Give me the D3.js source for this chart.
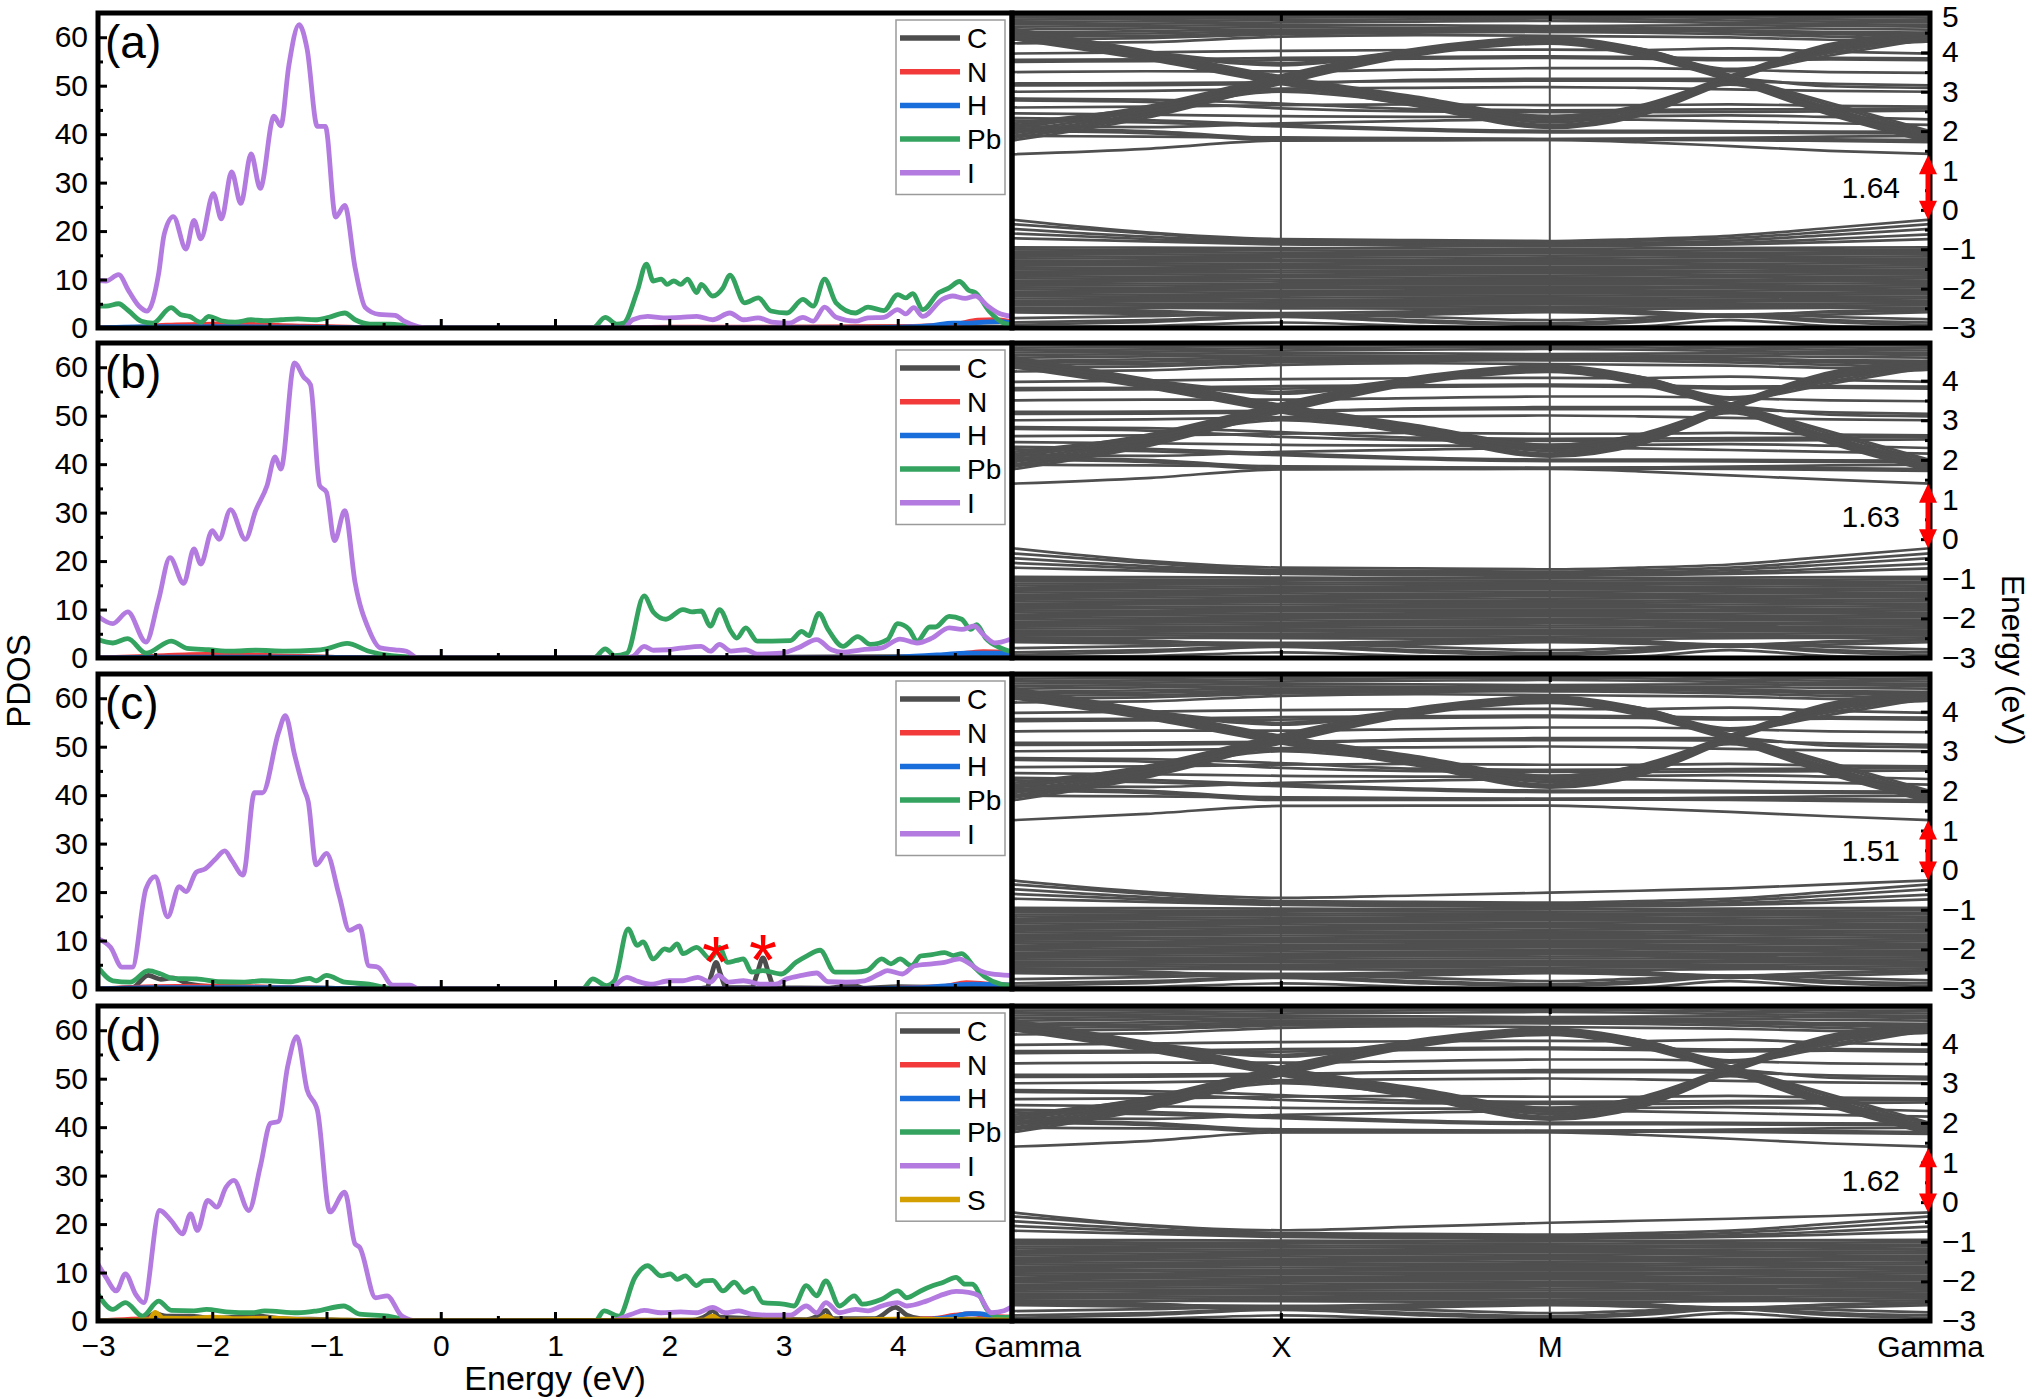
<!DOCTYPE html>
<html>
<head>
<meta charset="utf-8">
<script src="https://d3js.org/d3.v7.min.js"></script>
<style>
  body { margin: 0; background: #fff; }
  text { font-family: "Liberation Sans", Arial, sans-serif; }
</style>
</head>
<body>
<div id="chart"></div>
<script>
// ---------- data ----------
const elements = ['C', 'N', 'H', 'Pb', 'I', 'S'];
const panelLabels = ['(a)', '(b)', '(c)', '(d)'];
const gapValues = [1.64, 1.63, 1.51, 1.62];
const energyTicks = [-3, -2, -1, 0, 1, 2, 3, 4];
const energyMinor = [-2.5, -1.5, -0.5, 0.5, 1.5, 2.5, 3.5, 4.5];
const pdosTicks = [0, 10, 20, 30, 40, 50, 60];
const pdosMinor = [5, 15, 25, 35, 45, 55];
const bandTop = [5, 4.95, 4.95, 4.95];
const kPoints = [0, 0.5, 1, 1.5, 2, 2.33, 2.67, 3.04, 3.414];
const kTicks = [0, 1, 2, 3.414];
const kLabels = ['Gamma', 'X', 'M', 'Gamma'];
const starE = [2.41, 2.82];
const starV = [8.6, 9.0];

// PDOS, [energy, states]
const aI = [[-3.00,9.8],[-2.93,9.7],[-2.82,11.0],[-2.73,7.6],[-2.64,4.5],[-2.57,3.5],[-2.47,11.1],[-2.42,19.4],[-2.34,23.0],[-2.23,16.3],[-2.16,22.2],[-2.10,18.4],[-1.99,27.7],[-1.92,22.5],[-1.83,32.2],[-1.75,25.7],[-1.66,35.9],[-1.58,28.8],[-1.46,43.7],[-1.40,41.7],[-1.33,54.1],[-1.24,62.6],[-1.17,57.6],[-1.08,41.6],[-1.01,41.6],[-0.92,22.9],[-0.84,25.3],[-0.75,12.5],[-0.66,4.2],[-0.54,2.8],[-0.40,2.6],[-0.32,1.4],[-0.20,0.3],[-0.12,0],[1.60,0],[1.68,1.7],[1.81,2.4],[1.95,2.1],[2.10,2.2],[2.24,2.4],[2.38,1.7],[2.53,3.1],[2.65,1.7],[2.78,2.1],[2.90,1.2],[3.05,1.0],[3.17,2.2],[3.26,1.4],[3.36,4.3],[3.46,2.2],[3.63,1.4],[3.74,2.1],[3.88,2.2],[4.00,3.8],[4.07,2.9],[4.14,4.2],[4.22,2.4],[4.39,5.9],[4.48,6.6],[4.59,6.1],[4.68,6.6],[4.79,4.5],[4.88,3.1],[5.00,2.4]];
const aPb = [[-3.00,4.5],[-2.93,4.5],[-2.82,5.0],[-2.73,3.5],[-2.62,1.4],[-2.52,1.0],[-2.36,4.2],[-2.28,2.8],[-2.20,2.4],[-2.10,1.2],[-2.03,2.4],[-1.92,1.5],[-1.80,1.2],[-1.66,1.7],[-1.55,1.5],[-1.40,1.7],[-1.25,1.9],[-1.10,1.7],[-0.98,2.2],[-0.84,3.1],[-0.75,1.7],[-0.62,0.8],[-0.45,0.8],[-0.35,0.6],[-0.25,0.1],[-0.15,0],[1.33,0],[1.44,2.2],[1.54,0.8],[1.60,1.0],[1.72,7.6],[1.80,13.2],[1.86,9.7],[1.93,10.1],[1.98,9.0],[2.04,9.7],[2.10,9.0],[2.16,10.1],[2.24,7.3],[2.28,9.0],[2.38,6.6],[2.47,8.3],[2.53,10.9],[2.66,5.2],[2.78,6.2],[2.89,3.5],[3.03,3.1],[3.17,5.9],[3.26,4.5],[3.36,10.1],[3.46,5.2],[3.63,3.1],[3.74,4.3],[3.88,3.6],[4.00,6.9],[4.07,6.2],[4.13,7.1],[4.22,3.8],[4.36,7.3],[4.45,8.3],[4.54,9.6],[4.62,7.8],[4.68,7.3],[4.80,3.5],[4.93,1.0],[5.00,0.7]];
const aC = [[-3,0],[-2.5,0.2],[-2.0,0.4],[-1.5,0.3],[-1.0,0.2],[-0.5,0],[1.8,0],[2.5,0.1],[3.5,0.2],[4.0,0.3],[5.0,0.2]];
const aN = [[-3,0],[-2.6,0.2],[-2.4,0.6],[-2.0,0.8],[-1.8,1.0],[-1.6,0.7],[-1.2,0.4],[-0.8,0.2],[-0.5,0],[1.5,0],[2.0,0.2],[3.0,0.2],[4.0,0.3],[4.5,0.8],[4.7,1.6],[4.85,1.7],[5.0,1.2]];
const aH = [[-3,0],[-2.5,0.3],[-2.0,0.3],[-1.5,0.2],[-1.0,0.1],[-0.5,0],[3.5,0],[4.0,0.2],[4.3,0.5],[4.48,1.0],[4.6,1.0],[4.75,1.2],[4.9,1.3],[5.0,1.0]];

const bI = [[-3.00,8.6],[-2.87,7.1],[-2.74,9.5],[-2.58,3.3],[-2.47,12.0],[-2.37,20.7],[-2.25,15.4],[-2.16,22.5],[-2.10,19.4],[-2.00,26.3],[-1.94,24.5],[-1.84,30.6],[-1.71,24.5],[-1.62,30.4],[-1.52,35.6],[-1.45,41.5],[-1.40,39.0],[-1.28,60.9],[-1.20,58.0],[-1.14,56.4],[-1.06,35.6],[-1.00,34.2],[-0.93,24.2],[-0.84,30.4],[-0.75,15.6],[-0.63,5.9],[-0.53,2.1],[-0.40,1.7],[-0.30,1.4],[-0.20,0],[1.60,0],[1.68,0.3],[1.78,2.4],[1.86,1.6],[1.99,1.7],[2.12,2.1],[2.28,2.4],[2.36,1.4],[2.44,2.8],[2.54,1.4],[2.67,1.7],[2.77,0.8],[2.98,1.0],[3.13,2.1],[3.29,3.8],[3.42,1.7],[3.52,1.2],[3.68,1.7],[3.86,2.1],[4.02,3.9],[4.17,3.1],[4.30,4.1],[4.45,6.2],[4.56,5.9],[4.67,6.6],[4.75,4.8],[4.85,3.1],[4.98,3.8]];
const bPb = [[-3.00,3.8],[-2.87,3.1],[-2.74,4.0],[-2.58,1.0],[-2.36,3.5],[-2.22,2.0],[-2.03,1.7],[-1.83,1.4],[-1.62,1.6],[-1.36,1.4],[-1.10,1.6],[-1.00,1.9],[-0.82,3.0],[-0.63,1.4],[-0.43,0.5],[-0.27,0.2],[-0.15,0],[1.34,0],[1.44,1.9],[1.52,0.5],[1.63,1.0],[1.78,12.8],[1.86,9.5],[1.97,8.0],[2.12,10.0],[2.20,9.5],[2.28,9.7],[2.36,6.6],[2.44,10.0],[2.54,5.5],[2.59,4.1],[2.67,6.2],[2.77,3.5],[2.90,3.5],[3.06,3.6],[3.16,5.5],[3.22,4.6],[3.31,9.2],[3.39,5.9],[3.52,2.4],[3.65,4.4],[3.76,2.8],[3.91,3.8],[4.00,7.1],[4.10,5.9],[4.17,3.5],[4.28,6.4],[4.33,6.4],[4.45,8.6],[4.56,8.0],[4.64,5.9],[4.69,6.9],[4.77,4.1],[4.90,2.1],[4.98,1.4]];
const bC = [[-3,0],[-2.5,0.2],[-2.0,0.3],[-1.5,0.3],[-1.0,0.2],[-0.5,0],[1.8,0],[3.0,0.2],[4.0,0.3],[5.0,0.2]];
const bN = [[-3,0],[-2.5,0.4],[-2.2,0.7],[-1.9,0.8],[-1.5,0.5],[-1.0,0.2],[-0.5,0],[3.5,0],[4.3,0.3],[4.6,1.0],[4.75,1.3],[5.0,1.1]];
const bH = [[-3,0],[-2.5,0.2],[-1.5,0.2],[-0.5,0],[3.5,0],[4.0,0.2],[4.4,0.7],[4.6,1.0],[5.0,1.0]];

const cI = [[-3.00,10.4],[-2.89,8.6],[-2.79,4.5],[-2.70,4.5],[-2.58,20.7],[-2.50,23.2],[-2.39,14.9],[-2.29,21.1],[-2.23,20.1],[-2.14,24.1],[-2.06,24.8],[-1.98,26.6],[-1.89,28.5],[-1.83,26.6],[-1.73,23.5],[-1.63,40.5],[-1.56,40.5],[-1.42,52.9],[-1.36,56.4],[-1.28,48.4],[-1.20,41.4],[-1.16,38.7],[-1.09,25.6],[-1.00,28.0],[-0.89,19.4],[-0.80,12.1],[-0.71,13.0],[-0.63,4.8],[-0.55,4.5],[-0.42,0.8],[-0.27,0.8],[-0.19,0],[1.47,0],[1.63,2.4],[1.71,1.7],[1.84,1.0],[2.00,1.7],[2.12,1.7],[2.25,2.4],[2.36,1.4],[2.43,2.8],[2.52,1.4],[2.65,1.7],[2.81,1.0],[2.93,1.0],[3.03,2.1],[3.16,2.8],[3.29,3.3],[3.39,1.5],[3.55,1.4],[3.71,1.7],[3.84,3.1],[3.91,3.8],[4.04,3.1],[4.15,4.8],[4.30,5.2],[4.41,5.5],[4.54,6.2],[4.61,5.5],[4.72,3.8],[4.82,3.1],[4.98,2.8]];
const cPb = [[-3.00,4.5],[-2.87,1.7],[-2.72,1.4],[-2.56,3.8],[-2.45,3.1],[-2.35,2.2],[-2.14,2.1],[-1.93,1.5],[-1.72,1.4],[-1.57,1.7],[-1.31,1.5],[-1.15,2.2],[-1.09,1.7],[-1.00,2.8],[-0.84,1.4],[-0.63,1.0],[-0.48,0.3],[-0.40,0],[1.24,0],[1.33,2.1],[1.45,0.7],[1.52,1.7],[1.64,12.4],[1.72,9.0],[1.77,9.7],[1.86,6.2],[1.96,8.3],[2.00,8.0],[2.07,9.3],[2.12,7.3],[2.24,8.6],[2.36,6.2],[2.44,8.6],[2.51,5.5],[2.59,5.9],[2.65,6.2],[2.72,3.5],[2.82,3.8],[2.98,3.1],[3.11,5.5],[3.21,6.9],[3.32,8.0],[3.45,3.5],[3.63,3.5],[3.73,3.8],[3.86,6.2],[3.94,5.2],[4.02,6.2],[4.12,4.8],[4.20,6.8],[4.30,7.1],[4.41,7.5],[4.49,6.9],[4.56,7.3],[4.67,4.5],[4.77,2.4],[4.90,1.0],[5.00,0.7]];
const cC = [[-3,0],[-2.7,0.3],[-2.56,2.8],[-2.45,2.0],[-2.35,2.3],[-2.2,1.0],[-2.0,0.5],[-1.5,0.3],[-1.0,0.2],[-0.5,0],[2.2,0],[2.33,0.3],[2.37,3.0],[2.41,5.5],[2.45,3.0],[2.5,0.3],[2.72,0.3],[2.77,3.2],[2.82,6.4],[2.87,3.2],[2.92,0.3],[3.4,0.2],[3.6,0.8],[3.7,0.2],[4.0,0.5],[4.5,0.3],[5.0,0.2]];
const cN = [[-3,0],[-2.5,0.5],[-2.0,0.6],[-1.5,0.4],[-0.5,0],[3.5,0],[4.4,0.5],[4.6,1.3],[4.8,1.0],[5.0,0.8]];
const cH = [[-3,0],[-2.5,0.3],[-1.5,0.3],[-0.5,0],[3.5,0],[4.2,0.3],[4.5,0.8],[4.65,1.0],[5.0,0.8]];

const dI = [[-3.00,11.7],[-2.93,9.0],[-2.84,6.2],[-2.76,9.7],[-2.67,5.5],[-2.60,3.8],[-2.46,22.8],[-2.36,20.7],[-2.26,18.0],[-2.19,22.1],[-2.13,18.7],[-2.04,24.9],[-1.96,23.5],[-1.88,27.6],[-1.81,29.0],[-1.68,22.8],[-1.58,31.8],[-1.49,40.8],[-1.42,41.2],[-1.34,52.5],[-1.26,58.7],[-1.17,47.7],[-1.08,43.5],[-0.97,22.5],[-0.84,26.6],[-0.75,15.9],[-0.71,15.2],[-0.57,4.8],[-0.47,5.2],[-0.34,1.0],[-0.20,0],[1.47,0],[1.67,1.4],[1.78,2.2],[1.93,1.7],[2.10,1.9],[2.24,1.7],[2.38,2.8],[2.49,1.7],[2.61,2.1],[2.72,1.4],[2.89,1.2],[3.06,1.2],[3.20,3.1],[3.29,1.7],[3.37,3.8],[3.49,1.7],[3.63,2.4],[3.74,2.1],[3.86,3.1],[4.00,3.8],[4.08,3.1],[4.25,4.1],[4.40,5.5],[4.51,6.1],[4.62,5.9],[4.71,5.2],[4.82,1.7],[4.93,2.1],[4.99,2.8]];
const dPb = [[-3.00,5.5],[-2.87,2.4],[-2.76,3.8],[-2.61,1.0],[-2.47,4.1],[-2.36,2.2],[-2.16,2.1],[-2.05,2.4],[-1.88,1.9],[-1.65,1.7],[-1.54,2.1],[-1.25,1.7],[-1.08,2.1],[-0.85,3.1],[-0.71,1.4],[-0.46,1.0],[-0.32,0.3],[-0.20,0],[1.35,0],[1.43,2.1],[1.56,1.0],[1.70,9.0],[1.81,11.4],[1.93,9.3],[2.01,9.7],[2.07,8.6],[2.14,9.3],[2.24,7.3],[2.30,8.3],[2.38,8.4],[2.47,6.2],[2.57,8.0],[2.66,5.9],[2.73,6.8],[2.82,3.8],[3.00,3.5],[3.09,3.1],[3.20,7.3],[3.29,5.2],[3.37,8.3],[3.49,3.1],[3.62,5.2],[3.69,3.5],[3.86,4.5],[4.00,6.2],[4.08,4.8],[4.20,6.2],[4.31,7.3],[4.40,8.0],[4.51,9.0],[4.59,7.6],[4.65,7.6],[4.79,2.1],[4.91,0.7],[4.99,0.8]];
const dC = [[-3,0],[-2.6,0.3],[-2.5,1.5],[-2.4,1.0],[-2.2,1.0],[-2.0,0.6],[-1.6,1.0],[-1.4,0.5],[-1.0,0.3],[-0.5,0],[2.2,0.2],[2.33,1.2],[2.38,2.2],[2.44,0.8],[3.2,0.3],[3.33,1.5],[3.37,2.2],[3.43,0.5],[3.8,0.5],[3.98,2.8],[4.08,1.2],[4.2,0.5],[5.0,0.3]];
const dN = [[-3,0],[-2.5,0.5],[-2.0,0.4],[-1.5,0.3],[-0.5,0],[3.5,0],[4.3,0.5],[4.5,1.2],[4.65,1.5],[4.8,1.0],[5.0,0.8]];
const dH = [[-3,0],[-2.5,0.2],[-1.5,0.3],[-0.5,0],[3.5,0],[4.3,0.4],[4.5,1.0],[4.62,1.5],[4.72,1.5],[4.85,0.8],[5.0,0.6]];
const dS = [[-3,0],[-2.55,0.3],[-2.5,1.8],[-2.43,0.6],[-2.2,0.5],[-2.0,0.8],[-1.8,0.5],[-1.5,0.6],[-1.2,0.3],[-0.8,0.2],[-0.5,0],[2.3,0.2],[2.38,1.0],[2.45,0.2],[3.3,0.2],[3.37,1.0],[3.45,0.2],[4.0,0.4],[5.0,0.2]];

// bands, energies (eV) at kPoints
const cbEdgeA = [1.41, 1.55, 1.76, 1.77, 1.78, 1.72, 1.62, 1.50, 1.42];
const cbEdgeB = [1.40, 1.54, 1.76, 1.77, 1.77, 1.71, 1.61, 1.50, 1.40];
const cbEdgeC = [1.26, 1.42, 1.62, 1.63, 1.63, 1.56, 1.47, 1.36, 1.26];
const cbEdgeD = [1.40, 1.54, 1.76, 1.76, 1.76, 1.70, 1.60, 1.48, 1.40];
const vbEdgeA = [-0.25, -0.57, -0.74, -0.77, -0.79, -0.74, -0.66, -0.46, -0.25];
const vbEdgeB = [-0.23, -0.55, -0.72, -0.74, -0.76, -0.72, -0.64, -0.44, -0.23];
const vbEdgeC = [-0.26, -0.55, -0.70, -0.64, -0.57, -0.52, -0.46, -0.36, -0.26];
const vbEdgeD = [-0.26, -0.58, -0.71, -0.62, -0.52, -0.47, -0.42, -0.35, -0.26];

const bandsUp = [
  [1.76, 2.34, 3.20, 3.92, 4.22, 3.92, 3.28, 2.42, 1.72],
  [1.82, 2.39, 3.25, 3.95, 4.25, 3.95, 3.30, 2.46, 1.75],
  [1.88, 2.43, 3.28, 3.98, 4.28, 3.98, 3.33, 2.50, 1.79],
  [1.94, 2.48, 3.31, 4.01, 4.30, 4.01, 3.35, 2.55, 1.83],
  [2.00, 2.53, 3.34, 4.03, 4.32, 4.04, 3.37, 2.60, 1.88],
  [2.07, 2.58, 3.38, 4.06, 4.35, 4.07, 3.40, 2.66, 1.94],
  [2.14, 2.63, 3.42, 4.09, 4.38, 4.10, 3.43, 2.72, 2.00],
  [2.12, 2.50, 3.00, 2.70, 2.32, 2.55, 3.18, 2.45, 1.90],
  [2.20, 2.58, 3.05, 2.76, 2.38, 2.62, 3.22, 2.52, 1.98],
  [4.40, 3.95, 3.67, 4.00, 4.26, 4.05, 3.52, 3.92, 4.35],
  [4.46, 4.02, 3.72, 4.05, 4.30, 4.10, 3.58, 3.98, 4.40]
];
const bandsDown = [
  [4.34, 3.82, 3.20, 2.64, 2.08, 2.38, 3.27, 4.04, 4.28],
  [4.38, 3.86, 3.23, 2.68, 2.12, 2.42, 3.29, 4.07, 4.31],
  [4.42, 3.90, 3.26, 2.72, 2.16, 2.46, 3.31, 4.10, 4.35],
  [4.46, 3.93, 3.29, 2.76, 2.22, 2.50, 3.33, 4.12, 4.38],
  [4.50, 3.96, 3.32, 2.80, 2.28, 2.55, 3.35, 4.15, 4.42],
  [4.55, 4.00, 3.35, 2.84, 2.33, 2.60, 3.38, 4.18, 4.46],
  [4.60, 4.04, 3.39, 2.88, 2.38, 2.64, 3.41, 4.21, 4.50]
];
const bandsFlat = [
  [2.00, 1.95, 1.77, 1.77, 1.78, 1.78, 1.77, 1.75, 1.72],
  [2.05, 2.00, 1.82, 1.80, 1.80, 1.80, 1.80, 1.79, 1.77],
  [2.27, 2.22, 2.12, 2.02, 1.97, 1.97, 1.96, 1.95, 1.94],
  [2.33, 2.28, 2.16, 2.06, 2.01, 2.01, 2.00, 1.99, 1.98],
  [2.78, 2.74, 2.58, 2.50, 2.48, 2.48, 2.49, 2.50, 2.52],
  [2.83, 2.80, 2.70, 2.56, 2.53, 2.54, 2.55, 2.56, 2.58],
  [3.16, 3.17, 3.20, 3.30, 3.33, 3.33, 3.33, 3.14, 3.10],
  [3.21, 3.22, 3.24, 3.27, 3.28, 3.28, 3.27, 3.20, 3.16],
  [3.50, 3.52, 3.52, 3.56, 3.60, 3.60, 3.56, 3.50, 3.48],
  [3.76, 3.78, 3.80, 3.84, 3.86, 3.84, 3.80, 3.82, 3.80],
  [3.81, 3.82, 3.86, 3.88, 3.90, 3.88, 3.85, 3.86, 3.85],
  [3.97, 4.00, 4.04, 4.06, 4.07, 4.06, 4.10, 4.02, 3.97],
  [4.23, 4.26, 4.40, 4.44, 4.42, 4.40, 4.38, 4.32, 4.28],
  [1.88, 1.86, 1.84, 1.82, 1.80, 1.81, 1.83, 1.86, 1.88],
  [2.12, 2.10, 2.20, 2.26, 2.30, 2.29, 2.25, 2.20, 2.16],
  [2.45, 2.42, 2.38, 2.36, 2.36, 2.38, 2.40, 2.36, 2.30],
  [2.60, 2.62, 2.66, 2.68, 2.66, 2.66, 2.68, 2.64, 2.62],
  [3.00, 3.02, 3.08, 3.10, 3.12, 3.10, 3.06, 3.02, 3.00]
];
const bandsTop = [
  [4.40, 4.42, 4.50, 4.55, 4.58, 4.56, 4.52, 4.46, 4.42],
  [4.46, 4.48, 4.54, 4.60, 4.63, 4.60, 4.56, 4.50, 4.46],
  [4.50, 4.54, 4.58, 4.56, 4.52, 4.54, 4.55, 4.52, 4.50],
  [4.58, 4.61, 4.64, 4.62, 4.60, 4.61, 4.62, 4.60, 4.58],
  [4.65, 4.67, 4.70, 4.69, 4.67, 4.68, 4.69, 4.67, 4.65],
  [4.71, 4.73, 4.76, 4.78, 4.80, 4.78, 4.75, 4.72, 4.70],
  [4.77, 4.79, 4.82, 4.84, 4.86, 4.84, 4.81, 4.78, 4.76],
  [4.83, 4.85, 4.88, 4.90, 4.91, 4.90, 4.87, 4.84, 4.82],
  [4.89, 4.90, 4.93, 4.94, 4.95, 4.94, 4.92, 4.90, 4.88],
  [4.94, 4.95, 4.97, 4.98, 4.99, 4.98, 4.97, 4.95, 4.94],
  [4.32, 4.36, 4.46, 4.50, 4.52, 4.50, 4.46, 4.40, 4.34],
  [4.99, 5.00, 5.02, 5.03, 5.03, 5.03, 5.02, 5.00, 4.99]
];
const bandsVB = [
  [-0.36, -0.60, -0.78, -0.80, -0.82, -0.78, -0.72, -0.55, -0.36],
  [-0.48, -0.68, -0.81, -0.84, -0.86, -0.84, -0.78, -0.64, -0.48],
  [-0.60, -0.74, -0.85, -0.88, -0.90, -0.88, -0.84, -0.74, -0.62],
  [-0.72, -0.80, -0.88, -0.91, -0.93, -0.91, -0.88, -0.82, -0.74]
];
const bandsDeep = [
  [-0.95, -0.96, -0.97, -0.98, -0.99, -0.98, -0.97, -0.96, -0.95],
  [-1.00, -1.02, -1.03, -1.04, -1.05, -1.04, -1.03, -1.02, -1.01],
  [-1.06, -1.07, -1.09, -1.10, -1.10, -1.10, -1.09, -1.08, -1.07],
  [-1.12, -1.13, -1.14, -1.15, -1.16, -1.15, -1.14, -1.13, -1.12],
  [-1.17, -1.19, -1.20, -1.21, -1.22, -1.21, -1.20, -1.19, -1.18],
  [-1.23, -1.24, -1.26, -1.27, -1.27, -1.27, -1.26, -1.25, -1.24],
  [-1.29, -1.30, -1.31, -1.32, -1.33, -1.32, -1.31, -1.30, -1.29],
  [-1.34, -1.36, -1.37, -1.38, -1.38, -1.38, -1.37, -1.36, -1.35],
  [-1.40, -1.41, -1.43, -1.44, -1.44, -1.44, -1.43, -1.42, -1.40],
  [-1.46, -1.47, -1.48, -1.49, -1.50, -1.49, -1.48, -1.47, -1.46],
  [-1.51, -1.53, -1.54, -1.55, -1.55, -1.55, -1.54, -1.53, -1.52],
  [-1.57, -1.58, -1.59, -1.60, -1.61, -1.60, -1.59, -1.58, -1.57],
  [-1.63, -1.64, -1.65, -1.66, -1.67, -1.66, -1.65, -1.64, -1.63],
  [-1.68, -1.70, -1.71, -1.72, -1.72, -1.72, -1.71, -1.70, -1.69],
  [-1.74, -1.75, -1.77, -1.78, -1.78, -1.78, -1.77, -1.76, -1.74],
  [-1.80, -1.81, -1.82, -1.83, -1.84, -1.83, -1.82, -1.81, -1.80],
  [-1.85, -1.87, -1.88, -1.89, -1.89, -1.89, -1.88, -1.87, -1.86],
  [-1.91, -1.92, -1.94, -1.95, -1.95, -1.95, -1.94, -1.93, -1.91],
  [-1.97, -1.98, -1.99, -2.00, -2.01, -2.00, -1.99, -1.98, -1.97],
  [-2.02, -2.04, -2.05, -2.06, -2.06, -2.06, -2.05, -2.04, -2.03],
  [-2.08, -2.09, -2.11, -2.12, -2.12, -2.12, -2.11, -2.10, -2.08],
  [-2.14, -2.15, -2.16, -2.17, -2.18, -2.17, -2.16, -2.15, -2.14],
  [-2.19, -2.21, -2.22, -2.23, -2.23, -2.23, -2.22, -2.21, -2.20],
  [-2.25, -2.26, -2.28, -2.29, -2.29, -2.29, -2.28, -2.27, -2.25],
  [-2.31, -2.32, -2.33, -2.34, -2.35, -2.34, -2.33, -2.32, -2.31],
  [-2.36, -2.38, -2.39, -2.40, -2.40, -2.40, -2.39, -2.38, -2.37],
  [-2.42, -2.43, -2.45, -2.45, -2.46, -2.45, -2.45, -2.44, -2.42],
  [-2.48, -2.49, -2.50, -2.51, -2.51, -2.51, -2.50, -2.49, -2.48]
];
const bandsBottom = [
  [-2.55, -2.60, -2.62, -2.58, -2.55, -2.60, -2.66, -2.60, -2.55],
  [-2.60, -2.64, -2.70, -2.66, -2.60, -2.64, -2.72, -2.66, -2.60],
  [-2.75, -2.70, -2.64, -2.72, -2.80, -2.74, -2.66, -2.72, -2.78],
  [-2.86, -2.80, -2.70, -2.80, -2.88, -2.80, -2.68, -2.80, -2.86],
  [-2.92, -2.85, -2.72, -2.85, -2.92, -2.85, -2.70, -2.85, -2.92],
  [-2.52, -2.56, -2.68, -2.62, -2.53, -2.57, -2.68, -2.58, -2.52],
  [-2.98, -2.95, -2.86, -2.95, -2.99, -2.96, -2.80, -2.95, -2.99]
];

// ---------- layout ----------
const W = 2032, H = 1399;
const xLeft = 98, xSplit = 1012, xRight = 1930;
const panelTops = [13, 343, 674, 1006];
const panelH = 315;
const colors = { C: '#4d4d4d', N: '#f23a3a', H: '#1a6edc', Pb: '#33a35f', I: '#b37be0', S: '#d49f00' };
const bandColor = '#4f4f4f';

const panels = [
  { pdos: { C: aC, N: aN, H: aH, Pb: aPb, I: aI }, cb: cbEdgeA, vb: vbEdgeA },
  { pdos: { C: bC, N: bN, H: bH, Pb: bPb, I: bI }, cb: cbEdgeB, vb: vbEdgeB },
  { pdos: { C: cC, N: cN, H: cH, Pb: cPb, I: cI }, cb: cbEdgeC, vb: vbEdgeC },
  { pdos: { C: dC, N: dN, H: dH, Pb: dPb, I: dI, S: dS }, cb: cbEdgeD, vb: vbEdgeD }
];
const sharedBands = [].concat(bandsDeep, bandsBottom, bandsVB, bandsTop, bandsFlat, bandsDown, bandsUp);

const svg = d3.select('#chart')
  .append('svg')
  .attr('width', W)
  .attr('height', H)
  .style('background', '#fff');

const xE = d3.scaleLinear().domain([-3, 5]).range([xLeft, xSplit]);
const xK = d3.scaleLinear().domain([0, kPoints[kPoints.length - 1]]).range([xSplit, xRight]);
const yP = d3.scaleLinear().domain([0, 65]).range([panelH, 0]);

function styleAxis(sel, size) {
  sel.select('.domain').remove();
  sel.selectAll('.tick line').attr('stroke', '#000').attr('stroke-width', 3);
  sel.selectAll('text').attr('fill', '#000').style('font-size', size + 'px');
}

panels.forEach((p, i) => {
  const g = svg.append('g').attr('transform', `translate(0,${panelTops[i]})`);
  const yB = d3.scaleLinear().domain([-3, bandTop[i]]).range([panelH, 0]);

  g.append('clipPath').attr('id', `clipP${i}`)
    .append('rect').attr('x', xLeft).attr('y', 0).attr('width', xSplit - xLeft).attr('height', panelH);
  g.append('clipPath').attr('id', `clipB${i}`)
    .append('rect').attr('x', xSplit).attr('y', 0).attr('width', xRight - xSplit).attr('height', panelH);

  // PDOS curves
  const lineE = d3.line().x(d => xE(d[0])).y(d => yP(d[1])).curve(d3.curveMonotoneX);
  const keys = elements.filter(k => p.pdos[k]);
  g.append('g').attr('clip-path', `url(#clipP${i})`)
    .selectAll('path')
    .data(keys)
    .enter()
    .append('path')
    .attr('d', k => lineE(p.pdos[k]))
    .attr('fill', 'none')
    .attr('stroke', k => colors[k])
    .attr('stroke-width', 4.8)
    .attr('stroke-linejoin', 'round');

  // red stars on C peaks in (c)
  if (i === 2) {
    g.selectAll('text.star')
      .data(starE)
      .enter()
      .append('text')
      .attr('class', 'star')
      .attr('x', d => xE(d))
      .attr('y', (d, j) => yP(starV[j]))
      .attr('dy', '0.55em')
      .attr('text-anchor', 'middle')
      .attr('fill', '#ff0000')
      .style('font-size', '72px')
      .text('*');
  }

  // band structure
  const allBands = [p.vb, p.cb].concat(sharedBands);
  const lineK = d3.line().x((d, j) => xK(kPoints[j])).y(d => yB(d)).curve(d3.curveMonotoneX);
  const bg = g.append('g').attr('clip-path', `url(#clipB${i})`);
  bg.selectAll('path')
    .data(allBands)
    .enter()
    .append('path')
    .attr('d', lineK)
    .attr('fill', 'none')
    .attr('stroke', bandColor)
    .attr('stroke-width', 2.7);
  bg.selectAll('line.kline')
    .data(kTicks.slice(1, 3))
    .enter()
    .append('line')
    .attr('x1', d => xK(d)).attr('x2', d => xK(d))
    .attr('y1', 0).attr('y2', panelH)
    .attr('stroke', bandColor)
    .attr('stroke-width', 2);

  // frames
  g.append('rect').attr('x', xLeft).attr('y', 0).attr('width', xSplit - xLeft).attr('height', panelH)
    .attr('fill', 'none').attr('stroke', '#000').attr('stroke-width', 5);
  g.append('rect').attr('x', xSplit).attr('y', 0).attr('width', xRight - xSplit).attr('height', panelH)
    .attr('fill', 'none').attr('stroke', '#000').attr('stroke-width', 5);

  // PDOS axes
  g.append('g').attr('transform', `translate(${xLeft},0)`)
    .call(d3.axisLeft(yP).tickValues(pdosTicks).tickSizeInner(-9).tickSizeOuter(0).tickPadding(10))
    .call(s => styleAxis(s, 30));
  g.append('g').attr('transform', `translate(${xLeft},0)`)
    .call(d3.axisLeft(yP).tickValues(pdosMinor).tickSizeInner(-5).tickSizeOuter(0).tickFormat(''))
    .call(s => styleAxis(s, 30));
  g.append('g').attr('transform', `translate(0,${panelH})`)
    .call(d3.axisBottom(xE).tickValues(energyTicks).tickSizeInner(-9).tickSizeOuter(0).tickPadding(14)
      .tickFormat(i === 3 ? d3.format('d') : ''))
    .call(s => styleAxis(s, 30));
  g.append('g').attr('transform', `translate(0,${panelH})`)
    .call(d3.axisBottom(xE).tickValues(energyMinor).tickSizeInner(-5).tickSizeOuter(0).tickFormat(''))
    .call(s => styleAxis(s, 30));

  // band axes
  const bandTicks = d3.range(-3, Math.floor(bandTop[i]) + 1);
  g.append('g').attr('transform', `translate(${xRight},0)`)
    .call(d3.axisRight(yB).tickValues(bandTicks).tickSizeInner(-9).tickSizeOuter(0).tickPadding(12)
      .tickFormat(d3.format('d')))
    .call(s => styleAxis(s, 30))
    .call(s => s.selectAll('.tick').filter(d => d === 5).select('text').attr('y', 4));
  g.append('g').attr('transform', `translate(${xRight},0)`)
    .call(d3.axisRight(yB).tickValues(bandTicks.slice(0, -1).map(d => d + 0.5)).tickSizeInner(-5)
      .tickSizeOuter(0).tickFormat(''))
    .call(s => styleAxis(s, 30));
  g.append('g').attr('transform', `translate(0,${panelH})`)
    .call(d3.axisBottom(xK).tickValues(kTicks.slice(1, 3)).tickSizeInner(-8).tickSizeOuter(0).tickFormat(''))
    .call(s => styleAxis(s, 30));
  g.append('g')
    .call(d3.axisTop(xK).tickValues(kTicks.slice(1, 3)).tickSizeInner(-8).tickSizeOuter(0).tickFormat(''))
    .call(s => styleAxis(s, 30));
  if (i === 3) {
    g.append('g').attr('transform', `translate(0,${panelH})`)
      .call(d3.axisBottom(xK).tickValues(kTicks).tickSize(0).tickPadding(15).tickFormat((d, j) => kLabels[j]))
      .call(s => styleAxis(s, 30))
      .call(s => s.selectAll('.tick').filter((d, j) => j === 0).select('text').attr('dx', 15));
  }

  // gap arrow
  const yLo = yB(p.vb[0]);
  const yHi = yB(p.vb[0] + gapValues[i]);
  const ax = xRight - 2;
  const ag = g.append('g').attr('fill', '#ff0000');
  ag.append('line').attr('x1', ax).attr('x2', ax).attr('y1', yHi + 14).attr('y2', yLo - 14)
    .attr('stroke', '#ff0000').attr('stroke-width', 5);
  ag.append('path').attr('d', `M${ax},${yHi}L${ax - 9},${yHi + 19}L${ax + 9},${yHi + 19}Z`);
  ag.append('path').attr('d', `M${ax},${yLo}L${ax - 9},${yLo - 19}L${ax + 9},${yLo - 19}Z`);
  g.append('text')
    .attr('x', xRight - 30)
    .attr('y', (yLo + yHi) / 2)
    .attr('dy', '0.36em')
    .attr('text-anchor', 'end')
    .style('font-size', '30px')
    .text(gapValues[i].toFixed(2));

  // panel label
  g.append('text').attr('x', xLeft + 7).attr('y', 45).style('font-size', '46px').text(panelLabels[i]);

  // legend
  const rowH = 33.7;
  const lg = g.append('g').attr('transform', 'translate(896,7)');
  lg.append('rect').attr('width', 109).attr('height', keys.length * rowH + 6)
    .attr('fill', '#fff').attr('stroke', '#9a9a9a').attr('stroke-width', 1.5);
  const rows = lg.selectAll('g.row').data(keys).enter().append('g')
    .attr('transform', (d, j) => `translate(0,${18 + j * rowH})`);
  rows.append('line').attr('x1', 4).attr('x2', 64).attr('stroke', k => colors[k]).attr('stroke-width', 5.5);
  rows.append('text').attr('x', 71).attr('dy', '0.36em').style('font-size', '28px').text(k => k);
});

// titles
svg.append('text')
  .attr('x', (xLeft + xSplit) / 2)
  .attr('y', 1390)
  .attr('text-anchor', 'middle')
  .style('font-size', '34px')
  .text('Energy (eV)');
svg.append('text')
  .attr('transform', 'translate(30,681) rotate(-90)')
  .attr('text-anchor', 'middle')
  .style('font-size', '33px')
  .text('PDOS');
svg.append('text')
  .attr('transform', 'translate(2002,660) rotate(90)')
  .attr('text-anchor', 'middle')
  .style('font-size', '32px')
  .text('Energy (eV)');
</script>
</body>
</html>
